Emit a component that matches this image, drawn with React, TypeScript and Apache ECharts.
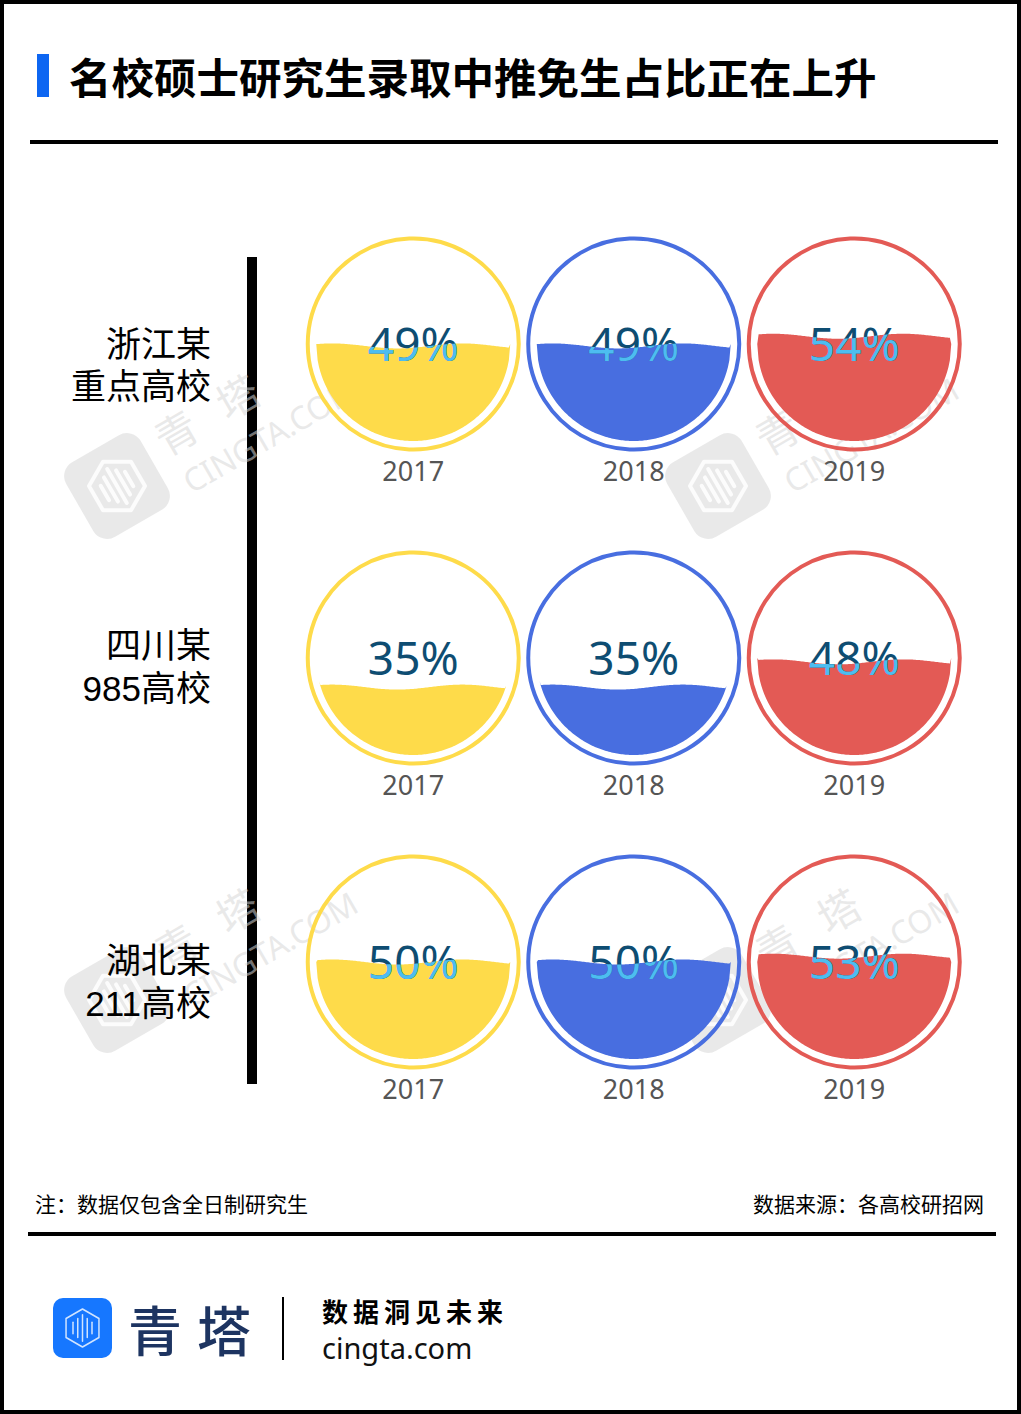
import React, { useEffect, useRef } from 'react';
import * as echarts from 'echarts';

// ---------- data ----------
const TITLE = '名校硕士研究生录取中推免生占比正在上升';
const years = ['2017', '2018', '2019'];
const schools = ['浙江某\n重点高校', '四川某\n985高校', '湖北某\n211高校'];
const zhejiangShares = [49, 49, 54];
const sichuanShares = [35, 35, 48];
const hubeiShares = [50, 50, 53];
const yearColors = ['#FEDB4A', '#486EE0', '#E35A55'];
const noteText = '注：数据仅包含全日制研究生';
const sourceText = '数据来源：各高校研招网';
const sloganText = '数据洞见未来';
const brandText = '青塔';
const siteText = 'cingta.com';

const rows = [zhejiangShares, sichuanShares, hubeiShares];

// ---------- layout ----------
const W = 1021;
const H = 1414;
const gridTops = [247, 561, 865];
const gridH = 194;
const gridLeft = 303;
const gridW = 661.5;
const labelLineCenters = [
  [344, 386],
  [645, 688],
  [960, 1003],
];
const DARK_TXT = '#0E4D72';
const LIGHT_TXT = '#4DBDF0';
const CJK = '"Noto Sans CJK SC", "Noto Sans", sans-serif';
const LABEL_FONT = '"Liberation Sans", "Noto Sans CJK SC", sans-serif';
const WM = 'rgba(215,215,215,0.55)';

const renderGauge = (params: any, api: any) => {
  const xi = api.value(0);
  const v = api.value(1);
  const c = api.coord([xi, 50]);
  const cx = c[0];
  const cy = c[1];
  const yTop = api.coord([xi, 100])[1];
  const yBot = api.coord([xi, 0])[1];
  const r = (yBot - yTop) / 2;
  const wy = api.coord([xi, v])[1];
  const color = yearColors[xi];
  const A = 2.5;
  const lambda = 130;
  const x0 = cx - 81;
  const N = 140;
  const top: number[][] = [];
  const bottom: number[][] = [];
  for (let i = 0; i <= N; i++) {
    const x = cx - r + (2 * r * i) / N;
    const dx = x - cx;
    const h = Math.sqrt(Math.max(0, r * r - dx * dx));
    const wave = wy - A * Math.cos((2 * Math.PI * (x - x0)) / lambda);
    const y = Math.min(Math.max(wave, cy - h), cy + h);
    top.push([x, y]);
    bottom.unshift([x, cy + h]);
  }
  const water = top.concat(bottom);
  const textStyle = {
    text: v + '%',
    fontSize: 46,
    fontFamily: '"Noto Sans", sans-serif',
    align: 'center',
    verticalAlign: 'middle',
  };
  return {
    type: 'group',
    children: [
      {
        type: 'circle',
        shape: { cx, cy, r: r + 8.5 },
        style: { fill: 'none', stroke: color, lineWidth: 4 },
      },
      { type: 'polygon', shape: { points: water }, style: { fill: color } },
      { type: 'text', x: cx, y: cy - 1, style: { ...textStyle, fill: DARK_TXT } },
      {
        type: 'group',
        clipPath: { type: 'polygon', shape: { points: water } },
        children: [
          { type: 'text', x: cx, y: cy - 1, style: { ...textStyle, fill: LIGHT_TXT } },
        ],
      },
    ],
  };
};

const hexPoints = (cx: number, cy: number, R: number) => {
  const pts: number[][] = [];
  for (let k = 0; k < 6; k++) {
    const a = -Math.PI / 2 + (k * Math.PI) / 3;
    pts.push([cx + R * Math.cos(a), cy + R * Math.sin(a)]);
  }
  return pts;
};

const barSpecs = [
  [-10, 6],
  [-5, 10],
  [0, 14],
  [5, 10],
  [10, 6],
];

const logoIcon = (cx: number, cy: number, R: number, stroke: string, lw: number) => [
  {
    type: 'polygon',
    shape: { points: hexPoints(cx, cy, R) },
    style: { fill: 'none', stroke, lineWidth: lw, lineJoin: 'round' },
  },
  ...barSpecs.map(([dx, hh]) => ({
    type: 'line',
    shape: { x1: cx + (dx * R) / 20, y1: cy - (hh * R) / 20, x2: cx + (dx * R) / 20, y2: cy + (hh * R) / 20 },
    style: { stroke, lineWidth: lw, lineCap: 'round' },
  })),
];

const watermark = (x: number, y: number) => ({
  type: 'group',
  x,
  y,
  rotation: Math.PI / 6,
  z: 100,
  silent: true,
  children: [
    { type: 'rect', shape: { x: -43, y: -43, width: 86, height: 86, r: 16 }, style: { fill: WM } },
    ...logoIcon(0, 0, 28, 'rgba(255,255,255,0.85)', 4),
    {
      type: 'text',
      x: 78,
      y: -19,
      style: { text: brandText[0], fontSize: 42, fontFamily: CJK, fill: WM, align: 'center', verticalAlign: 'middle' },
    },
    {
      type: 'text',
      x: 149,
      y: -19,
      style: { text: brandText[1], fontSize: 42, fontFamily: CJK, fill: WM, align: 'center', verticalAlign: 'middle' },
    },
    {
      type: 'text',
      x: 158,
      y: 32,
      style: {
        text: 'CINGTA.COM',
        fontSize: 32,
        fontFamily: '"Noto Sans", sans-serif',
        fill: WM,
        align: 'center',
        verticalAlign: 'middle',
      },
    },
  ],
});

export default function App() {
  const ref = useRef<HTMLDivElement>(null);
  useEffect(() => {
    if (!ref.current) return;
    const chart = echarts.init(ref.current, undefined, { renderer: 'svg', width: W, height: H });

    const grids = gridTops.map((t) => ({ left: gridLeft, top: t, width: gridW, height: gridH }));
    const xAxes = gridTops.map((_, i) => ({
      type: 'category',
      gridIndex: i,
      data: years,
      axisLine: { show: false },
      axisTick: { show: false },
      splitLine: { show: false },
      axisLabel: {
        color: '#555555',
        fontSize: 27,
        fontFamily: '"Noto Sans", sans-serif',
        margin: 16,
      },
    }));
    const yAxes = gridTops.map((_, i) => ({
      type: 'value',
      gridIndex: i,
      min: 0,
      max: 100,
      show: false,
    }));
    const series = rows.map((vals, i) => ({
      type: 'custom',
      xAxisIndex: i,
      yAxisIndex: i,
      clip: false,
      renderItem: renderGauge,
      data: vals.map((v, j) => [j, v]),
    }));

    const rowLabelTexts: any[] = [];
    schools.forEach((s, i) => {
      s.split('\n').forEach((line, k) => {
        rowLabelTexts.push({
          type: 'text',
          x: 211,
          y: labelLineCenters[i][k],
          z: 120,
          style: {
            text: line,
            fontSize: 35,
            lineHeight: 38,
            fontFamily: LABEL_FONT,
            fill: '#000',
            align: 'right',
            verticalAlign: 'middle',
          },
        });
      });
    });

    const sloganChars = sloganText.split('');
    const graphics: any[] = [
      // frame
      {
        type: 'rect',
        shape: { x: 2, y: 2, width: W - 4, height: H - 4 },
        style: { fill: 'none', stroke: '#000', lineWidth: 4 },
        z: 50,
      },
      // title
      { type: 'rect', shape: { x: 37, y: 54, width: 12, height: 43 }, style: { fill: '#0D66F2' } },
      {
        type: 'text',
        x: 69,
        y: 75,
        style: {
          text: TITLE,
          fontSize: 42.5,
          fontWeight: 'bold',
          fontFamily: CJK,
          fill: '#000',
          verticalAlign: 'middle',
        },
      },
      { type: 'rect', shape: { x: 30, y: 140, width: 968, height: 4 }, style: { fill: '#000' } },
      // vertical bar
      { type: 'rect', shape: { x: 247, y: 257, width: 10, height: 827 }, style: { fill: '#000' } },
      // footer notes
      {
        type: 'text',
        x: 35,
        y: 1203,
        style: { text: noteText, fontSize: 21, fontFamily: CJK, fill: '#000', verticalAlign: 'middle' },
      },
      {
        type: 'text',
        x: 984,
        y: 1203,
        style: { text: sourceText, fontSize: 21, fontFamily: CJK, fill: '#000', align: 'right', verticalAlign: 'middle' },
      },
      { type: 'rect', shape: { x: 28, y: 1232, width: 968, height: 4 }, style: { fill: '#000' } },
      // brand
      { type: 'rect', shape: { x: 53, y: 1298, width: 59, height: 60, r: 10 }, style: { fill: '#1677FF' } },
      ...logoIcon(82.5, 1328, 19, 'rgba(255,255,255,0.8)', 1.5),
      {
        type: 'text',
        x: 155,
        y: 1328,
        style: { text: brandText[0], fontSize: 54, fontWeight: 500, fontFamily: CJK, fill: '#1D3461', align: 'center', verticalAlign: 'middle' },
      },
      {
        type: 'text',
        x: 224,
        y: 1328,
        style: { text: brandText[1], fontSize: 54, fontWeight: 500, fontFamily: CJK, fill: '#1D3461', align: 'center', verticalAlign: 'middle' },
      },
      { type: 'rect', shape: { x: 282, y: 1297, width: 2, height: 63 }, style: { fill: '#000' } },
      ...sloganChars.map((ch, k) => ({
        type: 'text',
        x: 322 + k * 31,
        y: 1310,
        style: { text: ch, fontSize: 26, fontWeight: 'bold', fontFamily: CJK, fill: '#000', verticalAlign: 'middle' },
      })),
      {
        type: 'text',
        x: 322,
        y: 1347,
        style: { text: siteText, fontSize: 29, fontFamily: '"Noto Sans", sans-serif', fill: '#111', verticalAlign: 'middle' },
      },
      // watermarks
      watermark(117, 486),
      watermark(718, 486),
      watermark(117, 1000),
      watermark(718, 1000),
      // row labels (above watermarks)
      ...rowLabelTexts,
    ];

    chart.setOption({
      animation: false,
      backgroundColor: '#ffffff',
      grid: grids,
      xAxis: xAxes,
      yAxis: yAxes,
      series,
      graphic: { elements: graphics },
    });
    return () => chart.dispose();
  }, []);
  return <div ref={ref} style={{ position: 'absolute', left: 0, top: 0, width: W, height: H }} />;
}
